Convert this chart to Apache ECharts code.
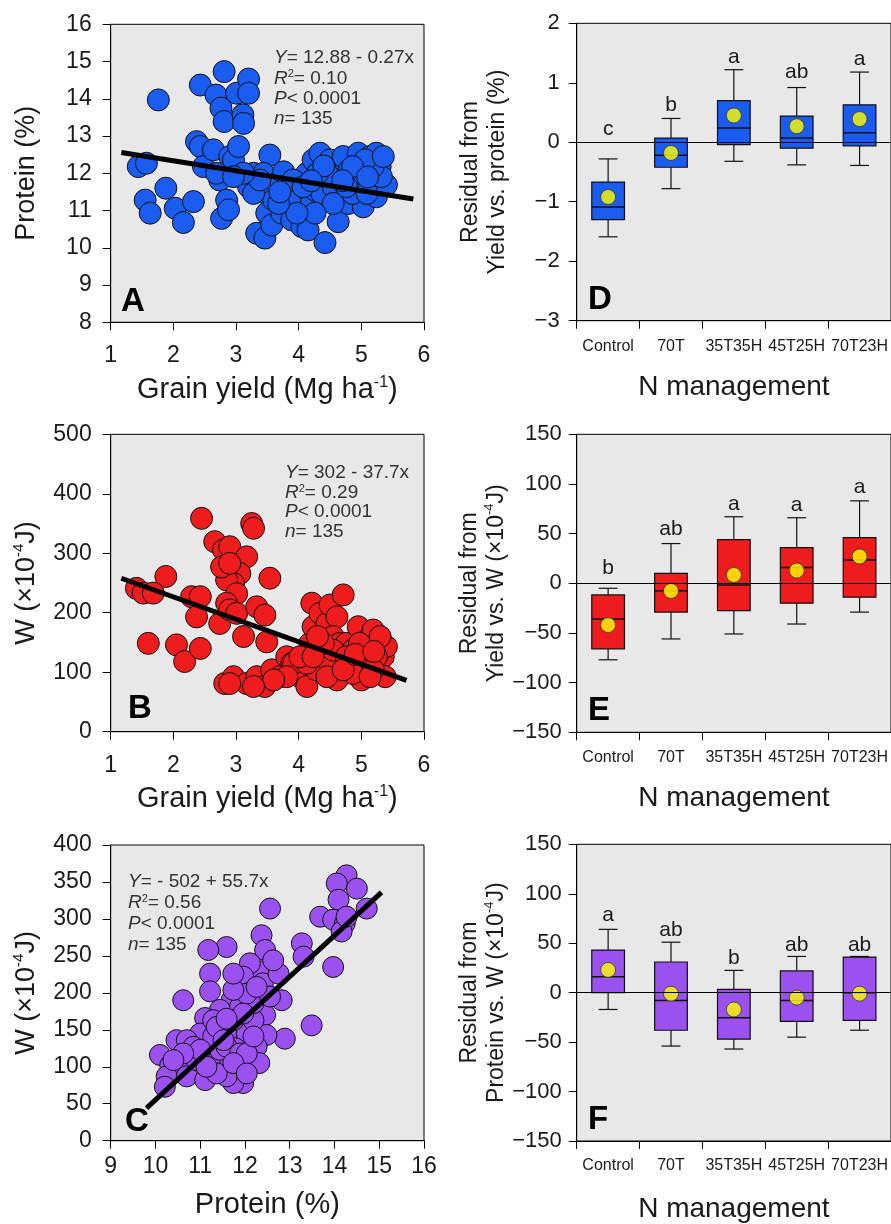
<!DOCTYPE html>
<html><head><meta charset="utf-8">
<script src="https://cdn.jsdelivr.net/npm/echarts@6/dist/echarts.min.js"></script>
<style>html,body{margin:0;padding:0;background:#fff}#c{width:891px;height:1224px}</style>
</head><body><div id="c"></div>
<script>
// ---------------- DATA ----------------
const categories = ['Control', '70T', '35T35H', '45T25H', '70T23H'];

// Panel A: grain yield (Mg/ha) vs protein (%)
const pointsA = [
 [1.76,13.97],[1.44,12.18],[1.57,12.27],[1.55,11.28],[1.63,10.93],[1.88,11.6],[2.03,11.06],[2.16,10.68],[2.32,11.24],
 [2.43,14.37],[2.68,14.1],[2.81,14.73],[2.76,13.75],[2.81,13.39],[3.01,14.15],[3.2,14.53],[3.2,14.15],[3.11,13.57],[3.12,13.34],
 [2.37,12.85],[2.43,12.72],[2.48,12.18],[2.64,12.63],[2.74,11.82],[2.77,10.79],[2.9,12.45],[2.96,12.36],[3.04,12.72],[2.85,11.28],
 [2.88,11.02],[3.2,11.64],[3.28,12.0],[3.33,10.39],[3.46,10.26],[3.46,11.48],[3.49,10.93],[3.57,10.61],[3.54,12.49],[3.44,12.0],
 [3.65,11.73],[3.76,12.04],[3.73,10.93],[3.81,11.64],[3.89,10.75],[3.97,11.28],[4.05,10.57],[4.13,12.0],[4.15,11.1],[4.15,10.48],
 [4.23,12.36],[4.26,11.55],[4.34,12.54],[4.37,11.46],[4.42,10.14],[4.5,12.36],[4.61,11.91],[4.63,10.7],[4.66,11.37],[4.71,12.45],
 [4.79,11.19],[4.81,12.09],[4.89,11.78],[4.95,12.54],[5.0,12.0],[5.03,11.1],[5.14,12.45],[5.19,11.64],[5.24,12.54],[5.3,12.18],
 [5.24,11.37],[5.4,11.69],[5.32,11.91],[4.55,11.64],[4.45,12.0],[4.3,12.0],[4.86,11.46],[5.09,11.46],[4.76,11.64],[3.86,11.28],
 [3.6,11.28],[3.28,11.46],[3.91,11.82],[4.07,11.64],[5.19,12.18],[5.06,12.36],[4.55,11.19],[4.86,12.18],[5.35,12.45],[4.26,10.93],
 [3.97,10.93],[3.68,11.19],[3.38,11.82],[3.12,12.0],[2.69,12.0],[2.96,11.91],[4.4,12.2],[4.7,11.8],[5.1,11.9],[3.7,11.5],[4.2,11.8]
];
const lineA = [[1.17,12.56],[5.83,11.31]];

// Panel B: grain yield vs W
const pointsB = [
 [2.45,358.7],[2.66,319.5],[2.8,305.5],[2.9,311],[3.25,350],[3.28,342],[3.17,294],[3.06,266],[2.96,249],[2.85,255],[2.77,277],
 [2.9,283],[3.01,232],[2.85,216],[2.74,182],[2.9,205],[3.01,199],[3.33,210],[3.46,196],[3.54,258],[3.49,151],[3.12,160],
 [1.88,261],[1.41,241],[1.52,233],[1.68,233],[1.6,148.5],[2.05,146],[2.18,118],[2.29,227],[2.43,227],[2.37,193],[2.43,140],
 [2.82,81],[2.96,92.5],[3.17,81],[3.33,92.5],[3.46,76],[3.57,104],[3.7,92.5],[3.81,126],[3.89,115],[4.02,92.5],[4.13,76],
 [4.18,148.5],[4.21,216],[4.23,176.5],[4.34,199],[4.45,182],[4.5,213],[4.61,193],[4.71,230],[4.55,160],[4.66,148.5],[4.76,148.5],
 [4.61,87],[4.86,137],[4.95,176.5],[5.0,87],[5.03,115],[5.09,154],[5.19,171],[5.24,148.5],[5.35,126],[5.38,92.5],[5.4,143],
 [4.34,126],[4.28,104],[3.92,115],[4.81,115],[5.09,115],[5.24,126],[4.5,115],[4.55,137],[4.86,98],[4.39,148.5],[4.13,115],
 [3.81,92.5],[3.6,87],[3.28,76],[2.9,81],[5.3,160],[5.19,104],[4.02,126],[4.23,126],[4.97,148.5],[4.76,126],[4.45,92.5],
 [4.71,104],[5.14,92.5],[4.3,160],[4.9,130],[5.2,135]
];
const lineB = [[1.17,258],[5.72,86.4]];

// Panel C: protein vs W
const pointsC = [
 [14.27,359],[14.05,348],[14.5,341],[14.09,326],[14.72,314],[13.68,303],[13.97,299],[14.23,294],[14.16,283],[13.97,235],
 [13.27,267],[13.31,249],[13.49,156],[12.56,314],[12.37,278],[12.45,258],[12.37,229],[12.4,213],[12.22,206],[12.11,240],
 [11.96,222],[12.75,226],[12.82,190],[12.89,138],[12.45,170],[12.48,143],[12.26,127],[12.32,105],[11.59,262],[11.18,258],
 [11.22,226],[11.22,202],[10.62,190],[11.7,190],[11.89,181],[11.44,177],[11.11,166],[11.89,154],[11.59,145],[12.04,145],
 [11.0,145],[10.47,136],[10.7,136],[10.1,116],[10.66,111],[10.33,102],[10.25,87],[10.7,87],[10.21,73],[11.11,82],[11.14,118],
 [11.44,105],[11.78,125],[11.67,109],[11.81,91],[11.96,78],[11.74,78],[11.59,87],[11.37,91],[11.44,123],[10.92,109],[11.29,141],
 [11.74,163],[12.19,163],[12.19,186],[12.04,199],[12.56,195],[11.74,204],[11.59,127],[11.89,118],[10.85,127],[11.0,123],
 [11.29,163],[10.62,118],[10.4,109],[12.04,118],[12.19,141],[11.37,154],[11.52,136],[11.74,105],[12.04,91],[11.14,100],
 [12.26,208],[12.63,244],[11.74,226],[11.96,172],[11.59,165],[14.27,303]
];
const lineC = [[9.8,44],[15.05,336]];

// Panels D-F: box statistics [lower whisker, Q1, median, Q3, upper whisker]
const boxD = [[-1.59,-1.30,-1.09,-0.67,-0.28],[-0.78,-0.42,-0.22,0.07,0.40],[-0.32,-0.04,0.24,0.70,1.22],[-0.38,-0.10,0.07,0.44,0.92],[-0.39,-0.06,0.16,0.63,1.18]];
const meanD = [-0.92,-0.18,0.45,0.27,0.39];
const lettersD = ['c','b','a','ab','a'];
const letterPosD = [0.22,0.62,1.43,1.18,1.40];

const boxE = [[-77,-66,-36,-11.7,-5],[-56,-29,-7.4,10,40],[-51,-27.5,-1.7,44,67],[-41,-20,15.8,36,66],[-29,-14,23.5,46,83]];
const meanE = [-42,-7.7,8.4,12.8,27];
const lettersE = ['b','ab','a','a','a'];
const letterPosE = [15,54,80,79,97];

const boxF = [[-17,0,16,43,64],[-54,-38,-8,31,51],[-57,-47,-25.5,3.4,22.5],[-45,-29,-8,22,36.6],[-38,-28,0,36,36.6]];
const meanF = [23,-1,-17,-5,-1];
const lettersF = ['a','ab','b','ab','ab'];
const letterPosF = [78,63,35,48,48];

const annotA = ['{i|Y}= 12.88 - 0.27x','{i|R}{s|2}= 0.10','{i|P}< 0.0001','{i|n}= 135'];
const annotB = ['{i|Y}= 302 - 37.7x','{i|R}{s|2}= 0.29','{i|P}< 0.0001','{i|n}= 135'];
const annotC = ['{i|Y}= - 502 + 55.7x','{i|R}{s|2}= 0.56','{i|P}< 0.0001','{i|n}= 135'];

// ---------------- STYLE / LAYOUT ----------------
const FONT = 'Liberation Sans, Arial, Helvetica, sans-serif';
const INK = '#1a1a1a';
const BLUE = '#1a5cf0', RED = '#ee1c1c', PURPLE = '#9b50f0';
const BG = '#e8e8e8';

const chart = echarts.init(document.getElementById('c'), null, {renderer: 'canvas', width: 891, height: 1224});

const grids = [
  {left: 110.7, top: 24.3, width: 313.3, height: 298},   // A
  {left: 110.7, top: 434.3, width: 313.3, height: 297.4},// B
  {left: 110.7, top: 845, width: 313.3, height: 295.7},  // C
  {left: 576.7, top: 23.3, width: 317.3, height: 297.4}, // D
  {left: 576.7, top: 434.3, width: 317.3, height: 298},  // E
  {left: 576.7, top: 844.3, width: 317.3, height: 298}   // F
].map(g => Object.assign({show: true, backgroundColor: BG, borderColor: '#000', borderWidth: 1, containLabel: false}, g));

function richTitle(size, lh) {
  return {
    t: {fontSize: size, fontFamily: FONT, color: INK, lineHeight: lh || size + 2},
    s: {fontSize: Math.round(size * 0.55), fontFamily: FONT, color: INK, verticalAlign: 'top', lineHeight: Math.round(size * 0.55)}
  };
}
const minusFmt = v => String(v).replace('-', '\u2212');

function valAxisX(gi, min, max, name, labelMargin, nameGap) {
  return {
    type: 'value', gridIndex: gi, min, max, interval: 1,
    axisLine: {show: true, onZero: false, lineStyle: {color: '#000', width: 1}},
    axisTick: {show: true, length: 8, lineStyle: {color: '#000'}},
    splitLine: {show: false},
    axisLabel: {fontSize: 23, fontFamily: FONT, color: INK, margin: labelMargin},
    name, nameLocation: 'middle', nameGap,
    nameTextStyle: {rich: richTitle(29)}
  };
}
function valAxisY(gi, min, max, interval, name, nameGap, fs, margin, fmt, titleSize, lh) {
  return {
    type: 'value', gridIndex: gi, min, max, interval,
    axisLine: {show: true, onZero: false, lineStyle: {color: '#000', width: 1}},
    axisTick: {show: true, length: 8, lineStyle: {color: '#000'}},
    splitLine: {show: false},
    axisLabel: {fontSize: fs, fontFamily: FONT, color: INK, margin, formatter: fmt},
    name, nameLocation: 'middle', nameGap,
    nameTextStyle: {rich: richTitle(titleSize, lh)}
  };
}
function catAxis(gi, labelMargin, nameGap) {
  return {
    type: 'category', gridIndex: gi, data: categories, boundaryGap: true,
    axisLine: {show: true, onZero: false, lineStyle: {color: '#000', width: 1}},
    axisTick: {show: true, length: 8, alignWithLabel: false, lineStyle: {color: '#000'}},
    axisLabel: {fontSize: 16, fontFamily: FONT, color: INK, margin: labelMargin, interval: 0},
    splitLine: {show: false},
    name: '{t|N management}', nameLocation: 'middle', nameGap,
    nameTextStyle: {rich: richTitle(28)}
  };
}

const xAxes = [
  valAxisX(0, 1, 6, '{t|Grain yield (Mg ha}{s|-1}{t|)}', 22, 52),
  valAxisX(1, 1, 6, '{t|Grain yield (Mg ha}{s|-1}{t|)}', 22, 52),
  valAxisX(2, 9, 16, '{t|Protein (%)}', 14, 49),
  catAxis(3, 18, 52),
  catAxis(4, 17, 51),
  catAxis(5, 17, 53)
];
const yAxes = [
  valAxisY(0, 8, 16, 1, '{t|Protein (%)}', 70, 23, 19, undefined, 27),
  valAxisY(1, 0, 500, 100, '{t|W (\u00d710}{s|-4}{t|J)}', 70, 23, 19, undefined, 27),
  valAxisY(2, 0, 400, 50, '{t|W (\u00d710}{s|-4}{t|J)}', 70, 23, 19, undefined, 27),
  valAxisY(3, -3, 2, 1, '{t|Residual from}\n{t|Yield vs. protein (%)}', 66, 22, 17, minusFmt, 23, 27),
  valAxisY(4, -150, 150, 50, '{t|Residual from}\n{t|Yield vs. W (\u00d710}{s|-4}{t|J)}', 66, 22, 15, minusFmt, 23, 27),
  valAxisY(5, -150, 150, 50, '{t|Residual from}\n{t|Protein vs. W (\u00d710}{s|-4}{t|J)}', 66, 22, 15, minusFmt, 23, 27)
];

function scatterSeries(gi, data, color, size) {
  return {
    type: 'scatter', xAxisIndex: gi, yAxisIndex: gi, data, symbol: 'circle', symbolSize: size,
    itemStyle: {color, borderColor: '#111', borderWidth: 1, opacity: 1}, z: 2, silent: true
  };
}
function regLine(gi, data) {
  return {
    type: 'line', xAxisIndex: gi, yAxisIndex: gi, data, symbol: 'none',
    lineStyle: {color: '#000', width: 5}, z: 3, silent: true
  };
}
function zeroLine(gi) {
  return {
    type: 'line', xAxisIndex: gi, yAxisIndex: gi, data: [], z: 1, silent: true,
    markLine: {silent: true, symbol: 'none', label: {show: false},
      lineStyle: {color: '#000', width: 1, type: 'solid'}, data: [{yAxis: 0}], animation: false}
  };
}
function boxSeries(gi, stats, color) {
  return {
    type: 'custom', xAxisIndex: gi, yAxisIndex: gi, z: 2, silent: true,
    data: stats.map((s, i) => [i].concat(s)),
    encode: {x: 0, y: [1, 2, 3, 4, 5]},
    renderItem: function (params, api) {
      const i = api.value(0);
      const band = api.size([1, 0])[0];
      const hw = band * 0.26, cw = band * 0.15;
      const p = [1, 2, 3, 4, 5].map(k => api.coord([i, api.value(k)]));
      const x = p[0][0];
      const ls = {stroke: '#111', lineWidth: 1.2};
      return {type: 'group', children: [
        {type: 'line', shape: {x1: x, y1: p[4][1], x2: x, y2: p[3][1]}, style: ls},
        {type: 'line', shape: {x1: x - cw, y1: p[4][1], x2: x + cw, y2: p[4][1]}, style: ls},
        {type: 'line', shape: {x1: x, y1: p[0][1], x2: x, y2: p[1][1]}, style: ls},
        {type: 'line', shape: {x1: x - cw, y1: p[0][1], x2: x + cw, y2: p[0][1]}, style: ls},
        {type: 'rect', shape: {x: x - hw, y: p[3][1], width: 2 * hw, height: p[1][1] - p[3][1]},
          style: {fill: color, stroke: '#111', lineWidth: 1.2}},
        {type: 'line', shape: {x1: x - hw, y1: p[2][1], x2: x + hw, y2: p[2][1]}, style: {stroke: '#111', lineWidth: 1.5}}
      ]};
    }
  };
}
function meanSeries(gi, means) {
  return {
    type: 'scatter', xAxisIndex: gi, yAxisIndex: gi, z: 4, silent: true,
    data: means.map((m, i) => [i, m]), symbol: 'circle', symbolSize: 15,
    itemStyle: {color: '#ffff00', borderColor: '#333', borderWidth: 1}
  };
}
function letterSeries(gi, letters, pos) {
  return {
    type: 'custom', xAxisIndex: gi, yAxisIndex: gi, z: 5, silent: true,
    data: pos.map((v, i) => [i, v]),
    encode: {x: 0, y: 1},
    renderItem: function (params, api) {
      const c = api.coord([api.value(0), api.value(1)]);
      return {type: 'text', x: c[0], y: c[1],
        style: {text: letters[params.dataIndex], fontSize: 21, fontFamily: FONT, fill: INK,
          align: 'center', verticalAlign: 'middle', textAlign: 'center', textVerticalAlign: 'middle'}};
    }
  };
}

function annotation(x, y0, step, lines) {
  return lines.map((t, k) => ({
    type: 'text', x: x, y: y0 + k * step, silent: true,
    style: {text: t, fontSize: 19, fontFamily: FONT, fill: '#333',
      align: 'left', verticalAlign: 'middle', textAlign: 'left', textVerticalAlign: 'middle',
      rich: {
        i: {fontStyle: 'italic', fontSize: 19, fontFamily: FONT, fill: '#333', color: '#333'},
        s: {fontSize: 11, fontFamily: FONT, verticalAlign: 'top', lineHeight: 11, fill: '#333', color: '#333'}
      }}
  }));
}
function panelLetter(letter, x, y) {
  return {type: 'text', x, y, silent: true, z: 10,
    style: {text: letter, fontSize: 33, fontWeight: 'bold', fontFamily: FONT, fill: '#000',
      align: 'left', verticalAlign: 'middle', textAlign: 'left', textVerticalAlign: 'middle'}};
}

const option = {
  animation: false,
  backgroundColor: '#fff',
  grid: grids,
  xAxis: xAxes,
  yAxis: yAxes,
  series: [
    scatterSeries(0, pointsA, BLUE, 22), regLine(0, lineA),
    scatterSeries(1, pointsB, RED, 22), regLine(1, lineB),
    scatterSeries(2, pointsC, PURPLE, 21), regLine(2, lineC),
    zeroLine(3), boxSeries(3, boxD, BLUE), meanSeries(3, meanD), letterSeries(3, lettersD, letterPosD),
    zeroLine(4), boxSeries(4, boxE, RED), meanSeries(4, meanE), letterSeries(4, lettersE, letterPosE),
    zeroLine(5), boxSeries(5, boxF, PURPLE), meanSeries(5, meanF), letterSeries(5, lettersF, letterPosF)
  ],
  graphic: {elements: [].concat(
    annotation(274, 58, 20.3, annotA),
    annotation(285, 473, 19.5, annotB),
    annotation(128, 882, 21, annotC),
    [panelLetter('A', 121, 302), panelLetter('B', 128, 709), panelLetter('C', 125, 1122),
     panelLetter('D', 588, 300), panelLetter('E', 588, 711), panelLetter('F', 588, 1120)]
  )}
};
chart.setOption(option);
</script>
</body></html>
